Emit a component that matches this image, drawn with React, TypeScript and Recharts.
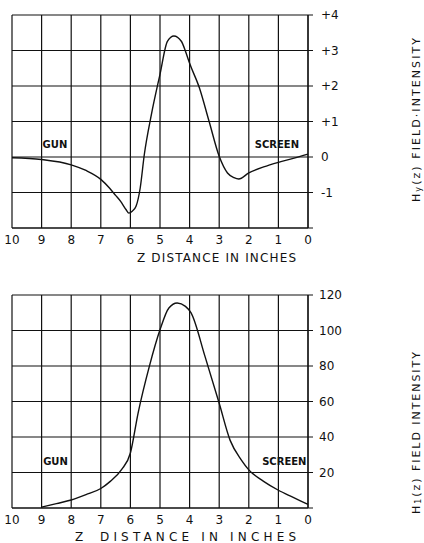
import React from "react";
import {
  LineChart,
  Line,
  XAxis,
  YAxis,
  CartesianGrid,
  ReferenceDot,
} from "recharts";

// z distance (inches), read from left (10) to right (0)
const zTicks = [10, 9, 8, 7, 6, 5, 4, 3, 2, 1, 0];

// upper curve: Hy(z)
const hyZ = [10, 9, 8, 7.5, 7, 6.7, 6.5, 6.33, 6.15, 6.05, 5.93, 5.81, 5.67, 5.53, 5.29, 5, 4.75, 4.53, 4.28, 4.14, 4, 3.67, 3.34, 3, 2.72, 2.5, 2.34, 2, 1.5, 1, 0.5, 0];
const hyValues = [-0.02, -0.07, -0.22, -0.38, -0.63, -0.88, -1.08, -1.25, -1.48, -1.58, -1.52, -1.39, -0.88, 0.07, 1.2, 2.33, 3.26, 3.41, 3.26, 2.98, 2.64, 1.95, 1.0, 0.02, -0.45, -0.58, -0.62, -0.45, -0.28, -0.15, -0.04, 0.08];
const hyTicks = [-2, -1, 0, 1, 2, 3, 4];

// lower curve: H(z)
const hZ = [9, 8.5, 8, 7.5, 7, 6.68, 6.3, 6, 5.74, 5.36, 5, 4.7, 4.42, 4.14, 3.95, 3.48, 3, 2.63, 2.25, 2, 1.5, 1, 0.5, 0];
const hValues = [0.5, 2.5, 4.5, 7.5, 11, 15, 21.6, 31, 53.5, 79.8, 100.4, 112.7, 115.5, 113.6, 109.9, 85.4, 59, 38.1, 27, 21.5, 15, 10, 6, 2];
const hTicks = [0, 20, 40, 60, 80, 100, 120];

const hyData = hyZ.map((z, i) => ({ z, v: hyValues[i] }));
const hData = hZ.map((z, i) => ({ z, v: hValues[i] }));

const FONT = "'DejaVu Sans', sans-serif";
const INK = "#111";

const tickStyle = { fill: INK, fontSize: 12, fontFamily: FONT };

const fmtHy = (v: number) => (v === -2 ? "" : v > 0 ? `+${v}` : `${v}`);
const fmtH = (v: number) => (v === 0 ? "" : `${v}`);

const Tag = (text: string) => (p: any) => (
  <text
    x={p.cx}
    y={p.cy}
    textAnchor="middle"
    dominantBaseline="central"
    fontFamily={FONT}
    fontSize={10}
    fontWeight="bold"
    fill={INK}
  >
    {text}
  </text>
);

const XTitleTop = (p: any) => {
  const y = p.viewBox.y + 34;
  return (
    <text x={137} y={y} textLength={159} lengthAdjust="spacing" fontFamily={FONT} fontSize={12} fill={INK}>
      Z DISTANCE IN INCHES
    </text>
  );
};

const XTitleBottom = (p: any) => {
  const y = p.viewBox.y + 33;
  return (
    <g fontFamily={FONT} fontSize={12} fill={INK}>
      <text x={75} y={y}>Z</text>
      <text x={100} y={y} textLength={196} lengthAdjust="spacing">
        DISTANCE IN INCHES
      </text>
    </g>
  );
};

const YTitle = ({ cy, sub, len }: { cy: number; sub: string; len: number }) => (p: any) => {
  const cx = 416;
  return (
    <text
      x={cx}
      y={cy}
      transform={`rotate(-90 ${cx} ${cy})`}
      textAnchor="middle"
      dominantBaseline="central"
      fontFamily={FONT}
      fontSize={11}
      textLength={len}
      lengthAdjust="spacing"
      fill={INK}
    >
      H
      <tspan fontSize={8} dy={2}>{sub}</tspan>
      <tspan dy={-2}>(z) FIELD{sub === "y" ? "·" : " "}INTENSITY</tspan>
    </text>
  );
};

const TopYTitle = YTitle({ cy: 120, sub: "y", len: 164 });
const BottomYTitle = YTitle({ cy: 155, sub: "1", len: 162 });

export default function App() {
  return (
    <div style={{ position: "absolute", top: 0, left: 0, width: 424, height: 543, overflow: "hidden", background: "#fff" }}>
      <LineChart width={424} height={278} data={hyData} margin={{ top: 15, right: 58, left: 12, bottom: 0 }}>
        <CartesianGrid stroke={INK} strokeWidth={1.2} />
        <XAxis
          dataKey="z"
          type="number"
          domain={[0, 10]}
          reversed
          ticks={zTicks}
          interval={0}
          height={50}
          tickLine={false}
          tickSize={0}
          tickMargin={7}
          axisLine={{ stroke: INK, strokeWidth: 1.2 }}
          tick={tickStyle}
          label={<XTitleTop />}
        />
        <YAxis
          orientation="right"
          type="number"
          domain={[-2, 4]}
          ticks={hyTicks}
          interval={0}
          width={58}
          tickSize={5}
          tickMargin={8}
          tickLine={{ stroke: INK }}
          axisLine={{ stroke: INK, strokeWidth: 1.2 }}
          tick={{ ...tickStyle, textAnchor: "start" }}
          tickFormatter={fmtHy}
          label={<TopYTitle />}
        />
        <ReferenceDot x={8.55} y={0.34} r={0} shape={Tag("GUN")} />
        <ReferenceDot x={1.05} y={0.34} r={0} shape={Tag("SCREEN")} />
        <Line type="monotone" dataKey="v" stroke={INK} strokeWidth={1.4} dot={false} isAnimationActive={false} />
      </LineChart>
      <LineChart width={424} height={265} data={hData} margin={{ top: 17, right: 58, left: 12, bottom: 0 }}>
        <CartesianGrid stroke={INK} strokeWidth={1.2} />
        <XAxis
          dataKey="z"
          type="number"
          domain={[0, 10]}
          reversed
          ticks={zTicks}
          interval={0}
          height={35}
          tickLine={false}
          tickSize={0}
          tickMargin={7}
          axisLine={{ stroke: INK, strokeWidth: 1.2 }}
          tick={tickStyle}
          label={<XTitleBottom />}
        />
        <YAxis
          orientation="right"
          type="number"
          domain={[0, 120]}
          ticks={hTicks}
          interval={0}
          width={58}
          tickSize={5}
          tickMargin={6}
          tickLine={{ stroke: INK }}
          axisLine={{ stroke: INK, strokeWidth: 1.2 }}
          tick={{ ...tickStyle, textAnchor: "start" }}
          tickFormatter={fmtH}
          label={<BottomYTitle />}
        />
        <ReferenceDot x={8.53} y={26} r={0} shape={Tag("GUN")} />
        <ReferenceDot x={0.8} y={26} r={0} shape={Tag("SCREEN")} />
        <Line type="monotone" dataKey="v" stroke={INK} strokeWidth={1.4} dot={false} isAnimationActive={false} />
      </LineChart>
    </div>
  );
}
